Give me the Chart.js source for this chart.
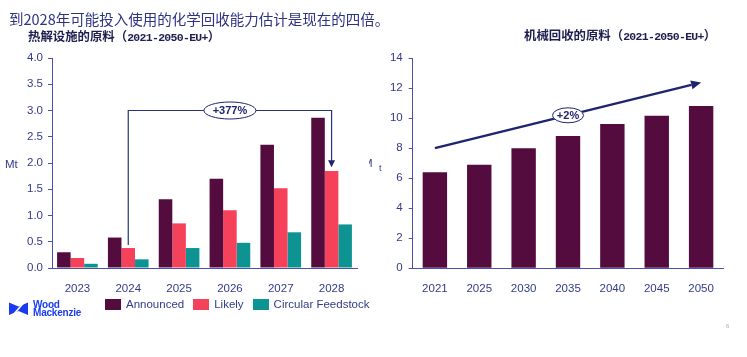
<!DOCTYPE html>
<html><head><meta charset="utf-8">
<script src="https://cdn.jsdelivr.net/npm/chart.js@4"></script>
<style>
html,body{margin:0;padding:0;background:#fff;width:747px;height:357px;overflow:hidden;}
#wrap{position:relative;width:747px;height:357px;}
canvas{position:absolute;top:0;}
.t{position:absolute;white-space:nowrap;}
.sub{font-family:'Noto Sans CJK SC';font-weight:bold;font-size:12.4px;line-height:16px;color:#1c1f4f;}
.sub .lat{font-family:'Liberation Mono',monospace;font-weight:bold;font-size:11.5px;letter-spacing:-0.7px;}
#legend{position:absolute;left:105px;top:297px;display:flex;align-items:center;font:11.5px 'Liberation Sans',Arial,sans-serif;color:#333a8a;line-height:14px;}
#legend .it{display:flex;align-items:center;margin-right:9px;}
#legend .bx{width:16px;height:11px;margin-right:5px;}
</style></head><body>
<div id="wrap">
<canvas id="c1" width="369" height="357" style="left:0"></canvas>
<canvas id="c2" width="378" height="357" style="left:369px"></canvas>
<div class="t" style="left:9px;top:9px;font-family:'Noto Sans CJK SC';font-size:14.5px;line-height:20px;color:#2d3282;">到2028年可能投入使用的化学回收能力估计是现在的四倍。</div>
<div class="t sub" style="left:28px;top:28px;">热解设施的原料（<span class="lat">2021-2050-EU+</span>）</div>
<div class="t sub" style="left:524px;top:27px;">机械回收的原料（<span class="lat">2021-2050-EU+</span>）</div>
<div class="t" style="left:5px;top:157px;font:11.5px 'Liberation Sans',Arial;line-height:14px;color:#333a8a;">Mt</div>
<div class="t" style="left:369px;top:156px;width:20px;height:18px;overflow:hidden;font:11.5px 'Liberation Sans',Arial;line-height:14px;color:#333a8a;">
  <span style="position:absolute;left:-6px;top:0;">M</span><span style="position:absolute;left:10px;top:5px;font-size:9px;">t</span>
</div>
<div id="legend"></div>
<svg class="t" style="left:0;top:295px" width="32" height="25" viewBox="0 295 32 25">
  <polygon points="9,302.5 18.5,306.5 28,302.5 28,315 18.5,311 9,315" fill="#1a3cf0"/>
  <line x1="13" y1="315" x2="24" y2="302.5" stroke="#fff" stroke-width="1.6"/>
</svg>
<div class="t" style="left:33px;top:301px;font:bold 10px 'Liberation Sans',Arial;line-height:8px;color:#1a3cf0;letter-spacing:-0.2px;">Wood<br>Mackenzie</div>
<div class="t" style="left:726px;top:322px;font:6px 'Liberation Sans',Arial;line-height:8px;color:#aaa;">6</div>
</div>
<script>
// ---- data ----
const years1 = ['2023','2024','2025','2026','2027','2028'];
const announced = [0.30, 0.58, 1.31, 1.70, 2.35, 2.86];
const likely = [0.19, 0.38, 0.85, 1.10, 1.52, 1.85];
const circular = [0.08, 0.165, 0.38, 0.48, 0.68, 0.83];
const seriesNames = ['Announced', 'Likely', 'Circular Feedstock'];
const seriesColors = ['#540c3e', '#f5425a', '#0e9393'];
const yTicks1 = [0, 0.5, 1.0, 1.5, 2.0, 2.5, 3.0, 3.5, 4.0];

const years2 = ['2021','2025','2030','2035','2040','2045','2050'];
const mechanical = [6.4, 6.9, 8.0, 8.8, 9.6, 10.15, 10.8];
const mechColor = '#540c3e';
const yTicks2 = [0, 2, 4, 6, 8, 10, 12, 14];

// annotation values (data units)
const growth1Label = '+377%';
const growth1Cats = [1, 5];          // from 2024 to 2028
const growth1Levels = [0.44, 3.0, 1.92]; // start, bracket level, arrow tip
const growth1LabelCat = 3;
const growth2Label = '+2%';
const growth2Cats = [0, 6];
const growth2Levels = [8.0, 12.37];
const growth2LabelCat = 3;

// ---- styles ----
const axisColor = '#4b4fae';
const tickColor = '#333a8a';
const annColor = '#1f2470';
const tickFont = {family: "'Liberation Sans', Arial, sans-serif", size: 11.5};

// legend
const lg = document.getElementById('legend');
seriesNames.forEach((n, i) => {
  const it = document.createElement('div'); it.className = 'it';
  const b = document.createElement('div'); b.className = 'bx'; b.style.background = seriesColors[i];
  const s = document.createElement('span'); s.textContent = n;
  it.appendChild(b); it.appendChild(s); lg.appendChild(it);
});

const ann1 = {
  id: 'ann1',
  afterDatasetsDraw(chart) {
    const {ctx, scales: {x, y}} = chart;
    const x0 = x.getPixelForValue(growth1Cats[0]), x1 = x.getPixelForValue(growth1Cats[1]);
    const ys = y.getPixelForValue(growth1Levels[0]);
    const yl = y.getPixelForValue(growth1Levels[1]);
    const ye = y.getPixelForValue(growth1Levels[2]);
    ctx.save();
    ctx.strokeStyle = '#2a2f7e'; ctx.lineWidth = 1.2;
    ctx.beginPath(); ctx.moveTo(x0, ys); ctx.lineTo(x0, yl); ctx.lineTo(x1, yl); ctx.lineTo(x1, ye - 6); ctx.stroke();
    ctx.fillStyle = annColor;
    ctx.beginPath(); ctx.moveTo(x1 - 3.5, ye - 7); ctx.lineTo(x1 + 3.5, ye - 7); ctx.lineTo(x1, ye); ctx.closePath(); ctx.fill();
    const xc = x.getPixelForValue(growth1LabelCat);
    ctx.beginPath(); ctx.ellipse(xc, yl, 26, 8.5, 0, 0, Math.PI * 2);
    ctx.fillStyle = '#fff'; ctx.fill(); ctx.lineWidth = 1; ctx.strokeStyle = annColor; ctx.stroke();
    ctx.fillStyle = annColor; ctx.font = "bold 11px 'Liberation Sans', Arial";
    ctx.textAlign = 'center'; ctx.textBaseline = 'middle';
    ctx.fillText(growth1Label, xc, yl + 0.5);
    ctx.restore();
  }
};

const ann2 = {
  id: 'ann2',
  afterDatasetsDraw(chart) {
    const {ctx, scales: {x, y}} = chart;
    const x0 = x.getPixelForValue(growth2Cats[0]), x1 = x.getPixelForValue(growth2Cats[1]);
    const y0 = y.getPixelForValue(growth2Levels[0]), y1 = y.getPixelForValue(growth2Levels[1]);
    const ang = Math.atan2(y1 - y0, x1 - x0);
    const hl = 10, hw = 4.5;
    const bx = x1 - hl * Math.cos(ang), by = y1 - hl * Math.sin(ang);
    ctx.save();
    ctx.strokeStyle = annColor; ctx.lineWidth = 2.5;
    ctx.beginPath(); ctx.moveTo(x0, y0); ctx.lineTo(bx, by); ctx.stroke();
    ctx.fillStyle = annColor;
    ctx.beginPath(); ctx.moveTo(x1, y1);
    ctx.lineTo(bx + hw * Math.sin(ang), by - hw * Math.cos(ang));
    ctx.lineTo(bx - hw * Math.sin(ang), by + hw * Math.cos(ang));
    ctx.closePath(); ctx.fill();
    const xc = x.getPixelForValue(growth2LabelCat);
    const yc = y0 + (xc - x0) * (y1 - y0) / (x1 - x0);
    ctx.beginPath(); ctx.ellipse(xc, yc, 15.5, 7.5, 0, 0, Math.PI * 2);
    ctx.fillStyle = '#fff'; ctx.fill(); ctx.lineWidth = 1; ctx.stroke();
    ctx.fillStyle = annColor; ctx.font = "bold 11px 'Liberation Sans', Arial";
    ctx.textAlign = 'center'; ctx.textBaseline = 'middle';
    ctx.fillText(growth2Label, xc, yc + 0.5);
    ctx.restore();
  }
};

function yScale(max, step, ticksArr, fmt, width, pad) {
  return {
    min: 0, max: max,
    afterBuildTicks(s) { s.ticks = ticksArr.map(v => ({value: v})); },
    afterFit(s) { s.width = width; },
    grid: {display: true, drawOnChartArea: false, drawTicks: true, tickLength: 4, color: axisColor},
    border: {display: true, color: axisColor, width: 1},
    ticks: {color: tickColor, font: tickFont, padding: pad, callback: fmt}
  };
}
function xScale(h) {
  return {
    afterFit(s) { s.height = h; },
    grid: {display: false},
    border: {display: true, color: axisColor, width: 1},
    ticks: {color: tickColor, font: tickFont, padding: 6}
  };
}

new Chart(document.getElementById('c1'), {
  type: 'bar',
  data: {
    labels: years1,
    datasets: [
      {label: seriesNames[0], data: announced, backgroundColor: seriesColors[0]},
      {label: seriesNames[1], data: likely, backgroundColor: seriesColors[1]},
      {label: seriesNames[2], data: circular, backgroundColor: seriesColors[2]}
    ]
  },
  options: {
    responsive: false, animation: false,
    layout: {padding: {top: 58, right: 12, bottom: 0, left: 0}},
    datasets: {bar: {categoryPercentage: 0.8, barPercentage: 1.0, borderWidth: 0}},
    plugins: {legend: {display: false}, tooltip: {enabled: false}},
    scales: {
      x: xScale(89),
      y: yScale(4, 0.5, yTicks1, v => Number(v).toFixed(1), 52, 5)
    }
  },
  plugins: [ann1]
});

new Chart(document.getElementById('c2'), {
  type: 'bar',
  data: {
    labels: years2,
    datasets: [{label: 'Mt', data: mechanical, backgroundColor: mechColor}]
  },
  options: {
    responsive: false, animation: false,
    layout: {padding: {top: 58, right: 23.7, bottom: 0, left: 0}},
    datasets: {bar: {categoryPercentage: 0.55, barPercentage: 1.0, borderWidth: 0}},
    plugins: {legend: {display: false}, tooltip: {enabled: false}},
    scales: {
      x: xScale(88.7),
      y: yScale(14, 2, yTicks2, v => String(v), 43.7, 6)
    }
  },
  plugins: [ann2]
});
</script>
</body></html>
